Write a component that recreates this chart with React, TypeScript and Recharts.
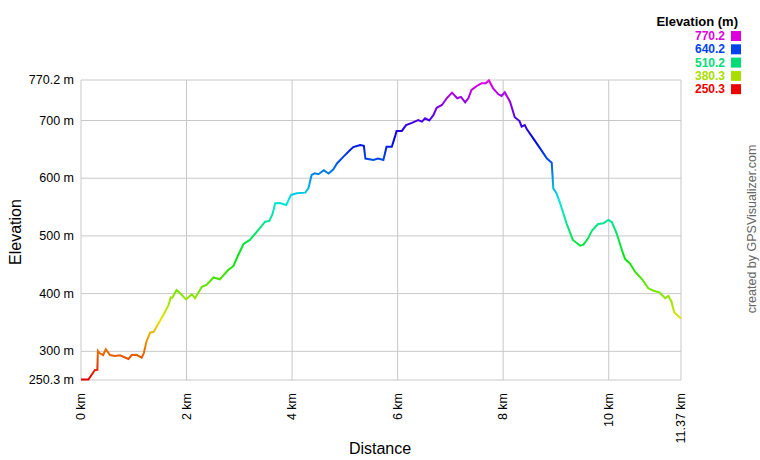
import { CartesianGrid, Line, LineChart, XAxis, YAxis } from "recharts";

const distKm = [
  0, 0.14, 0.265, 0.31, 0.32, 0.35, 0.42, 0.47, 0.55, 0.64, 0.74, 0.9, 0.96, 1.05, 1.15, 1.19, 1.24,
  1.31, 1.38, 1.47, 1.56, 1.66, 1.7, 1.73, 1.81, 1.88, 1.99, 2.1, 2.16, 2.29, 2.38, 2.51, 2.63,
  2.79, 2.89, 2.98, 3.08, 3.2, 3.33, 3.49, 3.57, 3.63, 3.68, 3.77, 3.89, 3.98, 4.09, 4.25, 4.31,
  4.37, 4.43, 4.5, 4.6, 4.69, 4.78, 4.85, 4.97, 5.1, 5.16, 5.29, 5.36, 5.39, 5.54, 5.63, 5.73,
  5.79, 5.89, 5.95, 5.98, 6.08, 6.16, 6.27, 6.39, 6.46, 6.52, 6.6, 6.68, 6.74, 6.84, 6.93, 7.03,
  7.13, 7.2, 7.28, 7.34, 7.4, 7.5, 7.59, 7.67, 7.73, 7.81, 7.91, 7.97, 8.03, 8.13, 8.22, 8.31,
  8.35, 8.41, 8.45, 8.57, 8.7, 8.83, 8.92, 8.95, 9.01, 9.08, 9.2, 9.32, 9.46, 9.52, 9.61, 9.68,
  9.8, 9.9, 9.99, 10.06, 10.15, 10.25, 10.31, 10.4, 10.5, 10.63, 10.75, 10.85, 10.96, 11.07,
  11.13, 11.19, 11.24, 11.37,
];

const elevM = [
  251, 251, 267.6, 268, 300.6, 297, 293.6, 303.5, 293.6, 292, 293, 286.7, 293.6, 294, 289, 297,
  316.7, 332.3, 334, 348.5, 363, 380.3, 393.6, 393, 406, 400.5, 390, 399, 392, 412, 415, 428,
  424.8, 441, 448, 467, 486, 493, 507, 524.6, 526, 538, 556.5, 557, 553.6, 571, 574, 575, 582.5,
  605.6, 608.5, 607, 614, 608, 615, 625.6, 637, 649, 654, 657.6, 656, 634, 631.6, 634, 631.6,
  654.6, 654.6, 672, 681.8, 682, 692, 696, 700.9, 698, 703.8, 700, 709.6, 722, 726.9, 738.5,
  748.3, 738.5, 741, 731.6, 738.5, 752.9, 759.8, 764.4, 764.4, 769.5, 755.8, 745.4, 742.5, 748.9,
  732.6, 705.6, 699, 689.3, 692, 684.7, 669, 651.8, 634, 626.9, 582.5, 574, 556.5, 521.9, 493,
  483, 485, 495.8, 509, 520.6, 522, 527.6, 524, 504.5, 475.6, 460, 452.5, 438, 425.3, 409.2,
  405, 402.3, 391.9, 396, 386, 367.6, 357,
];

const xTicks = [0, 2, 4, 6, 8, 10, 11.37];
const yTicks = [250.3, 300, 400, 500, 600, 700, 770.2];

const legendValues = ["770.2", "640.2", "510.2", "380.3", "250.3"];
const legendColors = ["#dd00dd", "#0044ee", "#00dd77", "#aadd00", "#ee0000"];

const data = distKm.map((km, i) => ({ km, elev: elevM[i] }));

const font = "'Liberation Sans', Arial, sans-serif";

// hue goes 0 (red, bottom) -> 300 (magenta, top)
const gradStops = Array.from({ length: 11 }, (_, i) => i / 10);

function XTick({ x, y, payload }: any) {
  const label = `${payload.value} km`;
  return (
    <text
      transform={`translate(${x + 4},${y + 5}) rotate(-90)`}
      textAnchor="end"
      fontSize={12.5}
      fontFamily={font}
      fill="#000"
    >
      {label}
    </text>
  );
}

function YTick({ x, y, payload }: any) {
  return (
    <text x={x + 1} y={y + 4} textAnchor="end" fontSize={12.5} fontFamily={font} fill="#000">
      {`${payload.value} m`}
    </text>
  );
}

export default function App() {
  return (
    <div
      style={{
        position: "absolute",
        left: 0,
        top: 0,
        width: 760,
        height: 460,
        background: "#fff",
        fontFamily: font,
      }}
    >
      <LineChart
        width={760}
        height={460}
        data={data}
        margin={{ top: 80, right: 79, bottom: 10, left: 21 }}
      >
        <defs>
          <linearGradient id="elevGrad" gradientUnits="userSpaceOnUse" x1="0" y1="80" x2="0" y2="380">
            {gradStops.map((o) => (
              <stop key={o} offset={o} stopColor={`hsl(${300 * (1 - o)}, 100%, 45%)`} />
            ))}
          </linearGradient>
        </defs>
        <CartesianGrid stroke="#c8c8c8" horizontalValues={yTicks} verticalValues={xTicks} />
        <XAxis
          type="number"
          dataKey="km"
          domain={[0, 11.37]}
          ticks={xTicks}
          interval={0}
          axisLine={false}
          tickLine={false}
          height={70}
          tick={<XTick />}
        />
        <YAxis
          type="number"
          domain={[250.3, 770.2]}
          ticks={yTicks}
          interval={0}
          axisLine={false}
          tickLine={false}
          width={60}
          tick={<YTick />}
        />
        <Line
          type="linear"
          dataKey="elev"
          stroke="url(#elevGrad)"
          strokeWidth={2}
          dot={false}
          isAnimationActive={false}
        />
      </LineChart>
      <svg
        width={760}
        height={460}
        style={{ position: "absolute", left: 0, top: 0, pointerEvents: "none" }}
      >
        <text
          transform="translate(21,232) rotate(-90)"
          textAnchor="middle"
          fontSize={16}
          fontFamily={font}
          fill="#000"
        >
          Elevation
        </text>
        <text x={380} y={454} textAnchor="middle" fontSize={16} fontFamily={font} fill="#000">
          Distance
        </text>
        <text x={738} y={26} textAnchor="end" fontSize={13} fontWeight="bold" fontFamily={font} fill="#000">
          Elevation (m)
        </text>
        {legendValues.map((v, i) => (
          <g key={v}>
            <text
              x={725}
              y={40 + i * 13.3}
              textAnchor="end"
              fontSize={12}
              fontWeight="bold"
              fontFamily={font}
              fill={legendColors[i]}
            >
              {v}
            </text>
            <rect x={731} y={31 + i * 13.3} width={10} height={10} fill={legendColors[i]} />
          </g>
        ))}
        <text
          transform="translate(756,229) rotate(-90)"
          textAnchor="middle"
          fontSize={12.5}
          fontFamily={font}
          fill="#666"
        >
          created by GPSVisualizer.com
        </text>
      </svg>
    </div>
  );
}
